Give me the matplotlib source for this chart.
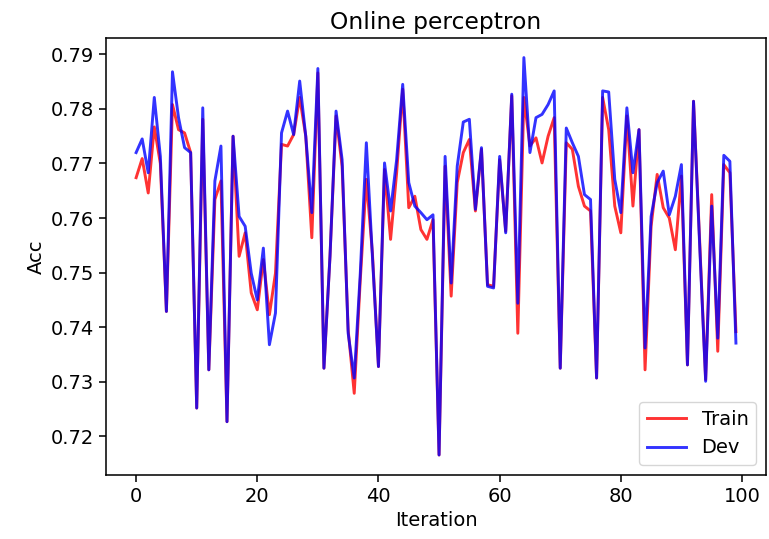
import matplotlib
matplotlib.use('Agg')
from matplotlib import pyplot as plt

# akurasi per iterasi
train_acc = [0.7674, 0.7709, 0.7646, 0.7767, 0.7700, 0.7429, 0.7808, 0.7762, 0.7756, 0.7720,
             0.7252, 0.7781, 0.7322, 0.7634, 0.7668, 0.7227, 0.7750, 0.7530, 0.7573, 0.7463,
             0.7432, 0.7524, 0.7423, 0.7499, 0.7735, 0.7732, 0.7753, 0.7821, 0.7750, 0.7564,
             0.7866, 0.7325, 0.7530, 0.7787, 0.7695, 0.7395, 0.7279, 0.7487, 0.7671, 0.7536,
             0.7328, 0.7689, 0.7561, 0.7683, 0.7836, 0.7619, 0.7640, 0.7579, 0.7561, 0.7597,
             0.7166, 0.7695, 0.7457, 0.7665, 0.7720, 0.7744, 0.7613, 0.7726, 0.7478, 0.7475,
             0.7707, 0.7576, 0.7824, 0.7389, 0.7821, 0.7732, 0.7747, 0.7701, 0.7750, 0.7784,
             0.7325, 0.7738, 0.7726, 0.7658, 0.7622, 0.7613, 0.7307, 0.7821, 0.7762, 0.7622,
             0.7573, 0.7787, 0.7622, 0.7762, 0.7322, 0.7585, 0.7680, 0.7619, 0.7600, 0.7542,
             0.7677, 0.7331, 0.7814, 0.7561, 0.7304, 0.7643, 0.7356, 0.7698, 0.7683, 0.7392]

dev_acc = [0.7720, 0.7745, 0.7683, 0.7821, 0.7713, 0.7429, 0.7868, 0.7784, 0.7729, 0.7720,
           0.7252, 0.7802, 0.7322, 0.7668, 0.7732, 0.7227, 0.7750, 0.7603, 0.7585, 0.7499,
           0.7450, 0.7545, 0.7368, 0.7426, 0.7756, 0.7796, 0.7753, 0.7851, 0.7750, 0.7610,
           0.7874, 0.7325, 0.7530, 0.7796, 0.7707, 0.7389, 0.7307, 0.7499, 0.7738, 0.7530,
           0.7328, 0.7701, 0.7613, 0.7707, 0.7845, 0.7665, 0.7622, 0.7610, 0.7597, 0.7606,
           0.7166, 0.7713, 0.7481, 0.7695, 0.7776, 0.7781, 0.7616, 0.7729, 0.7475, 0.7472,
           0.7713, 0.7573, 0.7827, 0.7444, 0.7894, 0.7720, 0.7784, 0.7790, 0.7808, 0.7833,
           0.7325, 0.7765, 0.7738, 0.7713, 0.7643, 0.7634, 0.7307, 0.7833, 0.7831, 0.7671,
           0.7610, 0.7802, 0.7683, 0.7762, 0.7362, 0.7603, 0.7665, 0.7686, 0.7606, 0.7640,
           0.7698, 0.7331, 0.7814, 0.7554, 0.7301, 0.7622, 0.7380, 0.7715, 0.7704, 0.7371]

iterasi = list(range(len(train_acc)))

# gambar asli kira-kira default matplotlib yang diperbesar 1.4x
skala = 1.4
plt.rcParams['font.size'] = 10 * skala
plt.rcParams['lines.linewidth'] = 1.5 * skala
plt.rcParams['axes.linewidth'] = 0.8 * skala
plt.rcParams['xtick.major.width'] = 0.8 * skala
plt.rcParams['ytick.major.width'] = 0.8 * skala
plt.rcParams['xtick.major.size'] = 3.5 * skala
plt.rcParams['ytick.major.size'] = 3.5 * skala

fig = plt.figure(figsize=(7.69, 5.39), dpi=100)
ax = fig.add_axes([0.138, 0.119, 0.858, 0.811])

ax.plot(iterasi, train_acc, color='red', alpha=0.8, label='Train')
ax.plot(iterasi, dev_acc, color='blue', alpha=0.8, label='Dev')

ax.set_title('Online perceptron')
ax.set_xlabel('Iteration')
ax.set_ylabel('Acc')
ax.legend(loc='lower right')

fig.savefig('out.png', dpi=100)
